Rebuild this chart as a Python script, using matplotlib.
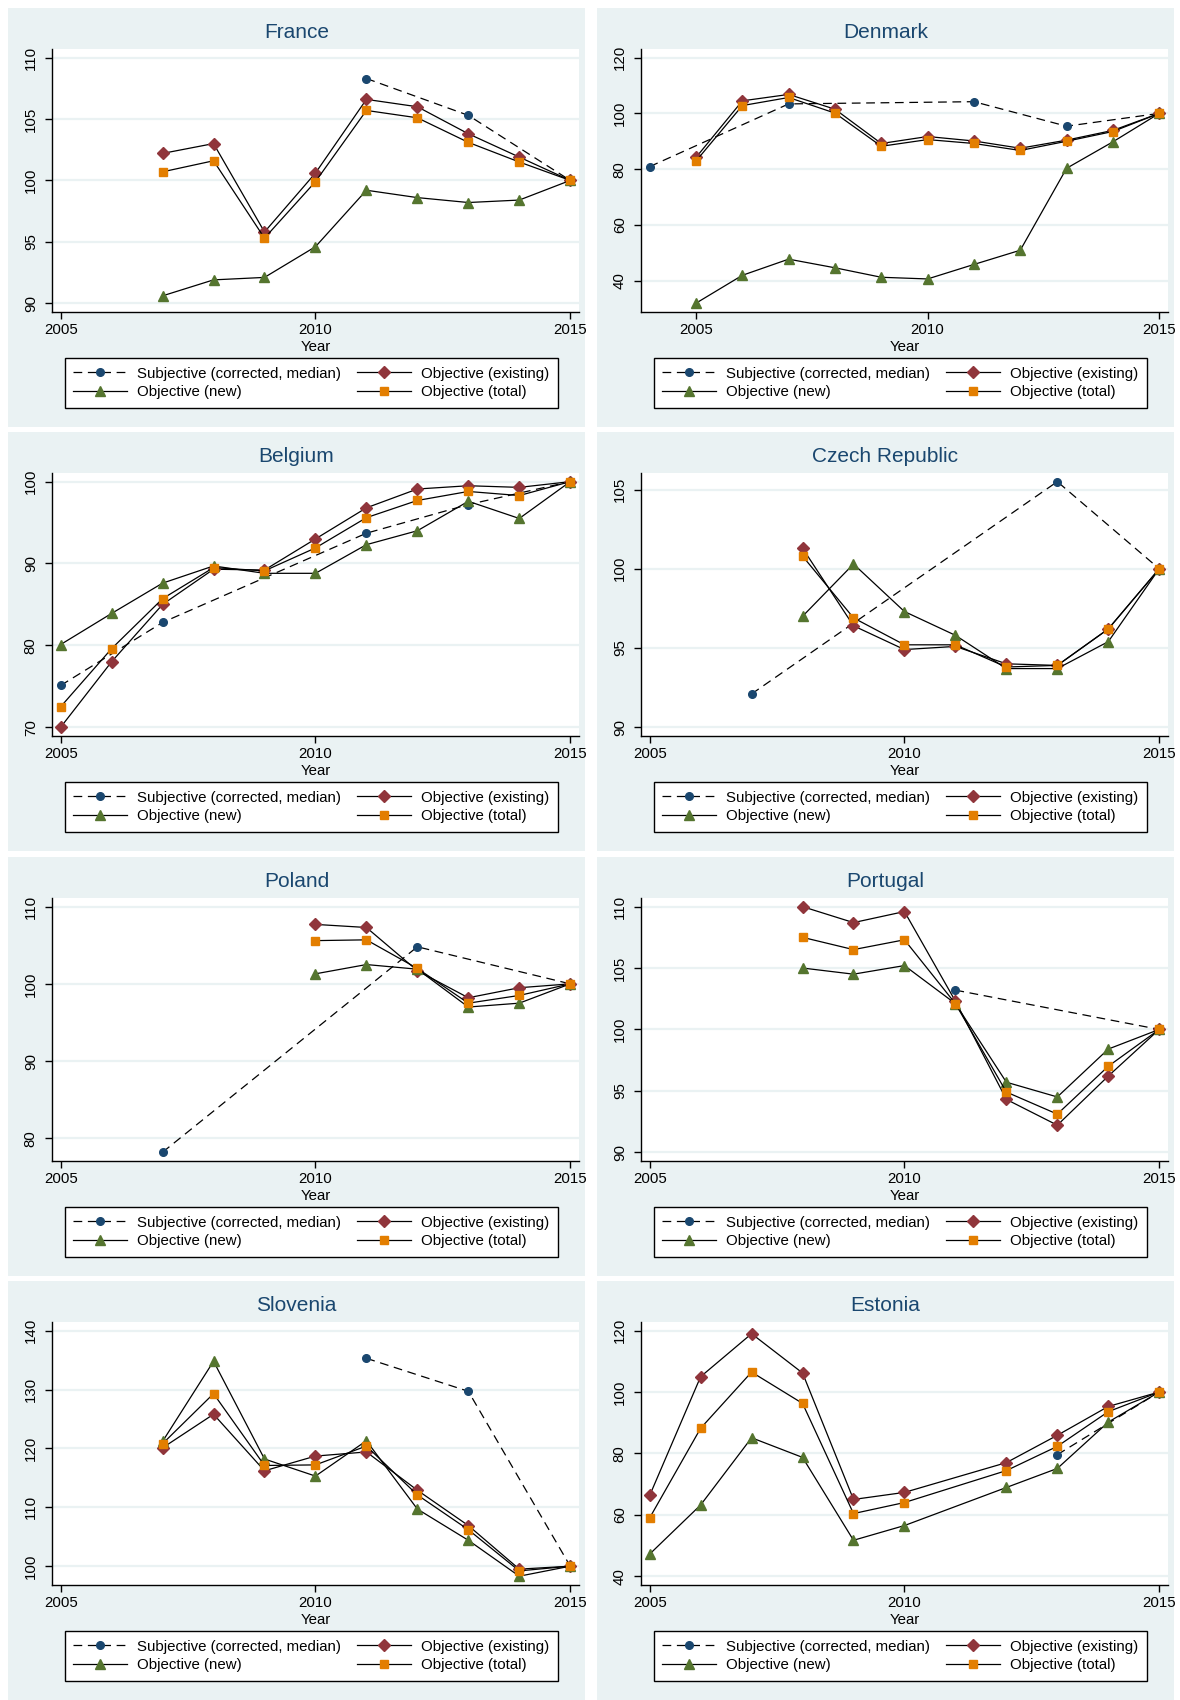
import matplotlib
matplotlib.use("Agg")
import matplotlib.pyplot as plt
from matplotlib.lines import Line2D
from matplotlib.patches import Rectangle

plt.rcParams["font.family"] = ["Liberation Sans", "DejaVu Sans"]

# ---- data ----
FR_YEARS = [2007, 2008, 2009, 2010, 2011, 2012, 2013, 2014, 2015]
FR_EXISTING = [102.2, 103.0, 95.8, 100.6, 106.6, 106.0, 103.8, 101.9, 100]
FR_TOTAL = [100.7, 101.6, 95.3, 99.9, 105.7, 105.1, 103.1, 101.5, 100]
FR_NEW = [90.6, 91.9, 92.1, 94.6, 99.2, 98.6, 98.2, 98.4, 100]
FR_SUBJ_YEARS = [2011, 2013, 2015]
FR_SUBJ = [108.3, 105.3, 100]
FR_YTICKS = [90, 95, 100, 105, 110]

DK_YEARS = [2005, 2006, 2007, 2008, 2009, 2010, 2011, 2012, 2013, 2014, 2015]
DK_EXISTING = [84.2, 104.5, 106.8, 101.5, 89.2, 91.7, 90.1, 87.5, 90.4, 93.9, 100]
DK_TOTAL = [82.9, 102.8, 105.7, 100.1, 88.2, 90.6, 89.2, 86.7, 90.0, 93.5, 100]
DK_NEW = [31.9, 41.9, 47.7, 44.6, 41.2, 40.6, 45.8, 50.9, 80.3, 89.8, 100]
DK_SUBJ_YEARS = [2004, 2007, 2011, 2013, 2015]
DK_SUBJ = [80.9, 103.4, 104.2, 95.4, 100]
DK_YTICKS = [40, 60, 80, 100, 120]

BE_YEARS = [2005, 2006, 2007, 2008, 2009, 2010, 2011, 2012, 2013, 2014, 2015]
BE_EXISTING = [70.0, 78.0, 85.0, 89.3, 89.2, 93.0, 96.8, 99.1, 99.5, 99.3, 100]
BE_TOTAL = [72.5, 79.6, 85.7, 89.5, 89.1, 91.9, 95.6, 97.7, 98.8, 98.3, 100]
BE_NEW = [80.1, 83.9, 87.6, 89.7, 88.8, 88.8, 92.3, 94.0, 97.6, 95.5, 100]
BE_SUBJ_YEARS = [2005, 2007, 2011, 2013, 2015]
BE_SUBJ = [75.1, 82.8, 93.7, 97.2, 100]
BE_YTICKS = [70, 80, 90, 100]

CZ_YEARS = [2008, 2009, 2010, 2011, 2012, 2013, 2014, 2015]
CZ_EXISTING = [101.3, 96.4, 94.9, 95.1, 94.0, 93.9, 96.2, 100]
CZ_TOTAL = [100.8, 96.9, 95.2, 95.2, 93.8, 93.9, 96.2, 100]
CZ_NEW = [97.0, 100.3, 97.3, 95.8, 93.7, 93.7, 95.4, 100]
CZ_SUBJ_YEARS = [2007, 2013, 2015]
CZ_SUBJ = [92.1, 105.5, 100]
CZ_YTICKS = [90, 95, 100, 105]

PL_YEARS = [2010, 2011, 2012, 2013, 2014, 2015]
PL_EXISTING = [107.7, 107.3, 101.7, 98.2, 99.5, 100]
PL_TOTAL = [105.6, 105.7, 102.0, 97.5, 98.5, 100]
PL_NEW = [101.3, 102.5, 101.9, 97.0, 97.5, 100]
PL_SUBJ_YEARS = [2007, 2012, 2015]
PL_SUBJ = [78.2, 104.8, 100]
PL_YTICKS = [80, 90, 100, 110]

PT_YEARS = [2008, 2009, 2010, 2011, 2012, 2013, 2014, 2015]
PT_EXISTING = [110.0, 108.7, 109.6, 102.3, 94.3, 92.2, 96.2, 100]
PT_TOTAL = [107.5, 106.5, 107.3, 102.1, 94.9, 93.1, 97.0, 100]
PT_NEW = [105.0, 104.5, 105.2, 102.1, 95.7, 94.5, 98.4, 100]
PT_SUBJ_YEARS = [2011, 2015]
PT_SUBJ = [103.2, 100]
PT_YTICKS = [90, 95, 100, 105, 110]

SI_YEARS = [2007, 2008, 2009, 2010, 2011, 2012, 2013, 2014, 2015]
SI_EXISTING = [120.1, 125.8, 116.2, 118.7, 119.4, 112.9, 106.9, 99.5, 100]
SI_TOTAL = [120.8, 129.3, 117.1, 117.2, 120.4, 112.1, 106.2, 99.2, 100]
SI_NEW = [121.2, 134.8, 118.2, 115.3, 121.3, 109.7, 104.4, 98.3, 100]
SI_SUBJ_YEARS = [2011, 2013, 2015]
SI_SUBJ = [135.3, 129.7, 100]
SI_YTICKS = [100, 110, 120, 130, 140]

EE_YEARS = [2005, 2006, 2007, 2008, 2009, 2010, 2012, 2013, 2014, 2015]
EE_EXISTING = [66.3, 105.0, 119.0, 106.2, 65.0, 67.3, 77.0, 85.9, 95.3, 100]
EE_TOTAL = [59.0, 88.2, 106.5, 96.3, 60.4, 64.0, 74.4, 82.3, 93.6, 100]
EE_NEW = [47.2, 63.2, 85.1, 78.7, 51.7, 56.5, 68.9, 75.1, 90.2, 100]
EE_SUBJ_YEARS = [2013, 2015]
EE_SUBJ = [79.6, 100]
EE_YTICKS = [40, 60, 80, 100, 120]

COUNTRIES = [
    ("France", FR_YEARS, FR_EXISTING, FR_TOTAL, FR_NEW, FR_SUBJ_YEARS, FR_SUBJ, FR_YTICKS),
    ("Denmark", DK_YEARS, DK_EXISTING, DK_TOTAL, DK_NEW, DK_SUBJ_YEARS, DK_SUBJ, DK_YTICKS),
    ("Belgium", BE_YEARS, BE_EXISTING, BE_TOTAL, BE_NEW, BE_SUBJ_YEARS, BE_SUBJ, BE_YTICKS),
    ("Czech Republic", CZ_YEARS, CZ_EXISTING, CZ_TOTAL, CZ_NEW, CZ_SUBJ_YEARS, CZ_SUBJ, CZ_YTICKS),
    ("Poland", PL_YEARS, PL_EXISTING, PL_TOTAL, PL_NEW, PL_SUBJ_YEARS, PL_SUBJ, PL_YTICKS),
    ("Portugal", PT_YEARS, PT_EXISTING, PT_TOTAL, PT_NEW, PT_SUBJ_YEARS, PT_SUBJ, PT_YTICKS),
    ("Slovenia", SI_YEARS, SI_EXISTING, SI_TOTAL, SI_NEW, SI_SUBJ_YEARS, SI_SUBJ, SI_YTICKS),
    ("Estonia", EE_YEARS, EE_EXISTING, EE_TOTAL, EE_NEW, EE_SUBJ_YEARS, EE_SUBJ, EE_YTICKS),
]

# ---- style (Stata s2color look) ----
BG = "#EAF2F3"
GRID = "#EAF2F3"
NAVY = "#1A476F"
MAROON = "#90353B"
GREEN = "#55752F"
ORANGE = "#E37E00"

W_PX, H_PX = 1180, 1700
PANEL_W, PANEL_H = 577, 419
COL_X = [8, 597]
ROW_Y = [8, 432, 857, 1281]
MARGIN_PX = 9

STYLE = {
    "subj": dict(color="black", ls=(0, (7, 4.5)), lw=0.9, marker="o", ms=5.5, mfc=NAVY, mec=NAVY),
    "existing": dict(color="black", ls="-", lw=0.9, marker="D", ms=6, mfc=MAROON, mec=MAROON),
    "new": dict(color="black", ls="-", lw=0.9, marker="^", ms=7, mfc=GREEN, mec=GREEN),
    "total": dict(color="black", ls="-", lw=0.9, marker="s", ms=6, mfc=ORANGE, mec=ORANGE),
}


def fx(px):
    return px / W_PX


def fy(px):
    return 1 - px / H_PX


fig = plt.figure(figsize=(W_PX / 100, H_PX / 100), dpi=100)

for i, (name, yrs, ex, tot, new, syrs, subj, yticks) in enumerate(COUNTRIES):
    x0 = COL_X[i % 2]
    y0 = ROW_Y[i // 2]
    fig.add_artist(Rectangle((fx(x0), fy(y0 + PANEL_H)), PANEL_W / W_PX, PANEL_H / H_PX,
                             transform=fig.transFigure, facecolor=BG, edgecolor="none", zorder=0))

    left = x0 + 0.0757 * PANEL_W
    right = x0 + 0.990 * PANEL_W
    top = y0 + 0.097 * PANEL_H
    bottom = y0 + 0.726 * PANEL_H
    ax = fig.add_axes([fx(left), fy(bottom), (right - left) / W_PX, (bottom - top) / H_PX])
    ax.set_facecolor("white")

    ax.plot(syrs, subj, **STYLE["subj"], zorder=3)
    ax.plot(yrs, ex, **STYLE["existing"], zorder=4)
    ax.plot(yrs, new, **STYLE["new"], zorder=5)
    ax.plot(yrs, tot, **STYLE["total"], zorder=6)

    # limits: data/tick range padded by a fixed pixel margin
    xlo = min(2005, min(yrs + syrs))
    xhi = 2015
    xpad = (xhi - xlo) * MARGIN_PX / ((right - left) - 2 * MARGIN_PX)
    ax.set_xlim(xlo - xpad, xhi + xpad)
    allv = ex + tot + new + subj
    ylo = min(min(allv), yticks[0])
    yhi = max(max(allv), yticks[-1])
    ypad = (yhi - ylo) * MARGIN_PX / ((bottom - top) - 2 * MARGIN_PX)
    ax.set_ylim(ylo - ypad, yhi + ypad)

    ax.set_xticks([2005, 2010, 2015])
    ax.set_yticks(yticks)
    ax.yaxis.grid(True, color=GRID, lw=1.6)
    ax.set_axisbelow(True)
    for s in ["top", "right"]:
        ax.spines[s].set_visible(False)
    for s in ["left", "bottom"]:
        ax.spines[s].set_linewidth(1.0)
        ax.spines[s].set_color("black")
    ax.tick_params(axis="x", length=5, width=1, pad=3, labelsize=10.8)
    ax.tick_params(axis="y", length=5, width=1, pad=5, labelsize=10.8)
    for lab in ax.get_yticklabels():
        lab.set_rotation(90)
        lab.set_va("center")
    ax.set_xlabel("Year", fontsize=10.8, labelpad=2)

    fig.text(fx(x0 + PANEL_W / 2), fy(y0 + 0.059 * PANEL_H), name, ha="center", va="center",
             fontsize=15, color=NAVY)

    handles = [
        Line2D([], [], **STYLE["subj"]),
        Line2D([], [], **STYLE["new"]),
        Line2D([], [], **STYLE["existing"]),
        Line2D([], [], **STYLE["total"]),
    ]
    labels = ["Subjective (corrected, median)", "Objective (new)",
              "Objective (existing)", "Objective (total)"]
    lx0 = x0 + 0.098 * PANEL_W
    lx1 = x0 + 0.953 * PANEL_W
    ly0 = y0 + 0.839 * PANEL_H
    ly1 = y0 + 0.951 * PANEL_H
    leg = ax.legend(handles, labels, ncol=2, mode="expand", loc="center",
                    bbox_to_anchor=(fx(lx0), fy(ly1), (lx1 - lx0) / W_PX, (ly1 - ly0) / H_PX),
                    bbox_transform=fig.transFigure, fontsize=10.8, frameon=True,
                    fancybox=False, edgecolor="black", framealpha=1, facecolor="white",
                    handlelength=3.6, handletextpad=0.7, labelspacing=0.32,
                    borderpad=0.55, numpoints=1, borderaxespad=0)
    leg.get_frame().set_linewidth(1.0)

fig.savefig("out.png", dpi=100, facecolor="white")
